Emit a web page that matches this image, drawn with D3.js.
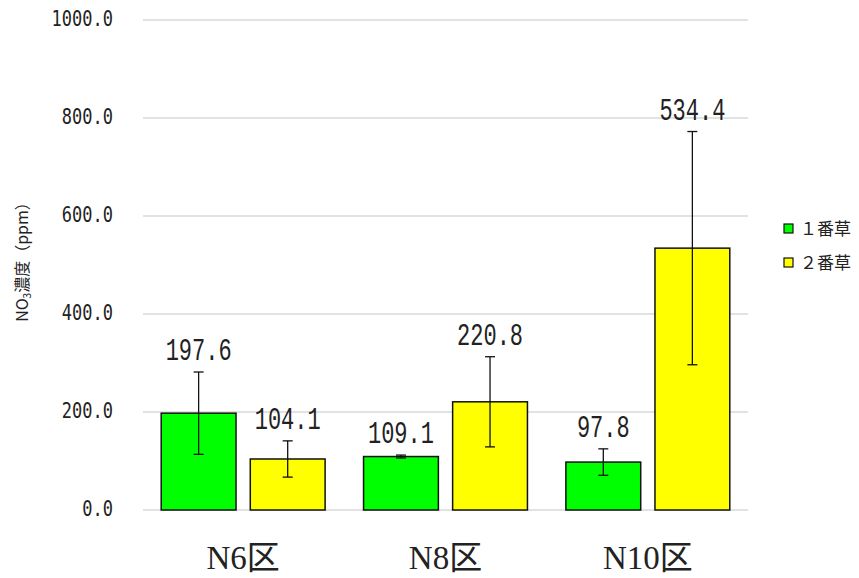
<!DOCTYPE html>
<html><head><meta charset="utf-8">
<script src="https://cdn.jsdelivr.net/npm/d3@7/dist/d3.min.js"></script>
<style>body{margin:0;background:#fff;}svg{display:block;}</style>
</head><body>
<svg id="c" width="859" height="578"></svg>
<script>
const categories = ["N6区", "N8区", "N10区"];
const seriesNames = ["１番草", "２番草"];
const series1 = [197.6, 109.1, 97.8];
const series2 = [104.1, 220.8, 534.4];
const err1 = [84, 3, 27];
const err2 = [37, 92, 238];
const yTicks = [0, 200, 400, 600, 800, 1000];
const colors = ["#00ff00", "#ffff00"];

const svg = d3.select("#c");
const m = {left: 143, right: 748, top: 20, bottom: 510};
const x = d3.scaleBand().domain(categories).range([m.left, m.right]).paddingInner(0.19).paddingOuter(0.09);
const xs = d3.scaleBand().domain([0,1]).range([0, x.bandwidth()]).paddingInner(0.16);
const y = d3.scaleLinear().domain([0, 1000]).range([m.bottom, m.top]);

// grid
svg.append("g").selectAll("line").data(yTicks).join("line")
  .attr("x1", m.left).attr("x2", m.right)
  .attr("y1", d => y(d)).attr("y2", d => y(d))
  .attr("stroke", "#d9d9d9").attr("stroke-width", 1.3);

// y tick labels
svg.append("g").selectAll("text").data(yTicks).join("text")
  .attr("transform", d => `translate(113,${y(d) + 6}) scale(1,1.2)`)
  .attr("text-anchor", "end")
  .attr("font-family", "DejaVu Sans Mono, monospace")
  .attr("font-size", 17).attr("fill", "#222")
  .text(d => d.toFixed(1));

const data = [];
categories.forEach((c, i) => {
  data.push({c, s: 0, v: series1[i], e: err1[i]});
  data.push({c, s: 1, v: series2[i], e: err2[i]});
});

const g = svg.append("g");
g.selectAll("rect").data(data).join("rect")
  .attr("x", d => x(d.c) + xs(d.s))
  .attr("width", xs.bandwidth())
  .attr("y", d => y(d.v))
  .attr("height", d => y(0) - y(d.v))
  .attr("fill", d => colors[d.s])
  .attr("stroke", "#111").attr("stroke-width", 1.5);

// error bars
const eb = g.selectAll("g.eb").data(data).join("g").attr("class", "eb");
const cx = d => x(d.c) + xs(d.s) + xs.bandwidth() / 2;
eb.append("line").attr("x1", cx).attr("x2", cx)
  .attr("y1", d => y(d.v + d.e)).attr("y2", d => y(d.v - d.e))
  .attr("stroke", "#111").attr("stroke-width", 1.3);
eb.append("line").attr("x1", d => cx(d) - 5).attr("x2", d => cx(d) + 5)
  .attr("y1", d => y(d.v + d.e)).attr("y2", d => y(d.v + d.e))
  .attr("stroke", "#111").attr("stroke-width", 1.3);
eb.append("line").attr("x1", d => cx(d) - 5).attr("x2", d => cx(d) + 5)
  .attr("y1", d => y(d.v - d.e)).attr("y2", d => y(d.v - d.e))
  .attr("stroke", "#111").attr("stroke-width", 1.3);

// data labels
g.selectAll("text.lbl").data(data).join("text").attr("class", "lbl")
  .attr("transform", d => `translate(${cx(d)},${y(d.v + d.e) - 12}) scale(1,1.45)`)
  .attr("text-anchor", "middle")
  .attr("font-family", "Liberation Mono, monospace")
  .attr("font-size", 22).attr("fill", "#222")
  .text(d => d.v.toFixed(1));

// category labels
svg.append("g").selectAll("text").data(categories).join("text")
  .attr("x", d => x(d) + x.bandwidth() / 2)
  .attr("y", 569)
  .attr("text-anchor", "middle")
  .attr("font-family", "Liberation Serif, Noto Sans CJK JP, serif")
  .attr("font-size", 33).attr("fill", "#222")
  .text(d => d);

// y axis title
const yt = svg.append("text")
  .attr("transform", "translate(28,258) rotate(-90)")
  .attr("text-anchor", "middle")
  .attr("font-family", "Noto Sans CJK JP, sans-serif")
  .attr("font-size", 16).attr("fill", "#222");
yt.append("tspan").text("NO");
yt.append("tspan").attr("font-size", 10).attr("dy", 3).text("3");
yt.append("tspan").attr("dy", -3).text("濃度（ppm）");

// legend
const lg = svg.append("g").selectAll("g").data(seriesNames).join("g")
  .attr("transform", (d, i) => `translate(784,${224 + i * 34})`);
lg.append("rect").attr("width", 9).attr("height", 9)
  .attr("fill", (d, i) => colors[i]).attr("stroke", "#111").attr("stroke-width", 1.2);
lg.append("text").attr("x", 16).attr("y", 11)
  .attr("font-family", "Noto Sans CJK JP, sans-serif")
  .attr("font-size", 17).attr("fill", "#222")
  .text(d => d);
</script>
</body></html>
